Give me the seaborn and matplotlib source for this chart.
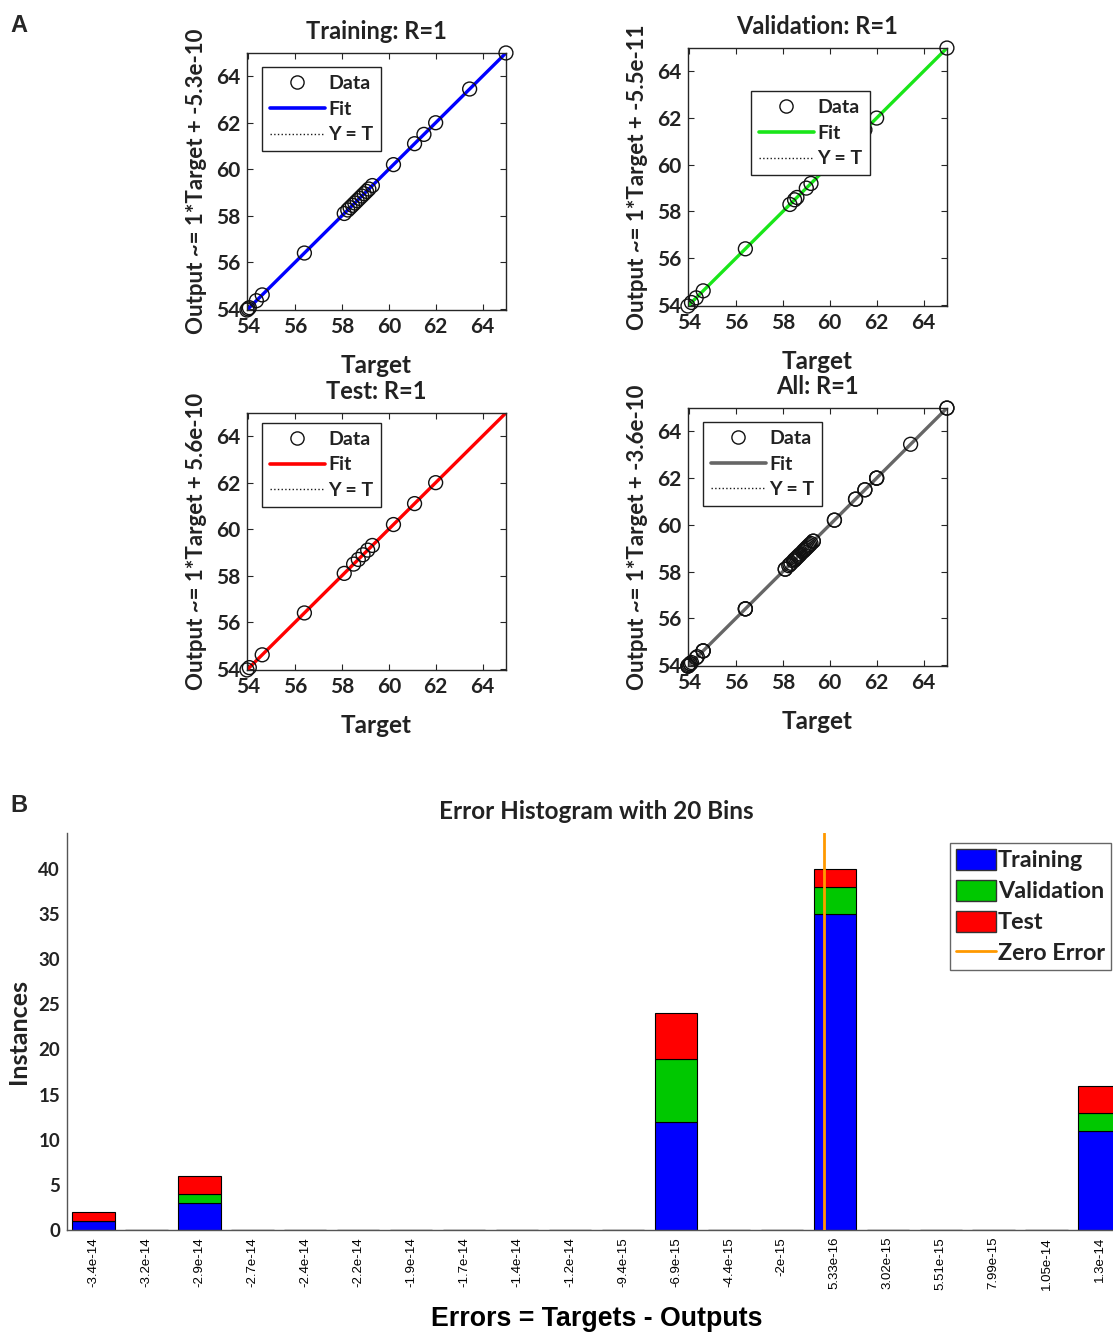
import numpy as np
import pandas as pd
import matplotlib
matplotlib.use("Agg")
import matplotlib.pyplot as plt
import seaborn as sns
from matplotlib.lines import Line2D
from matplotlib.patches import Patch

# ---------------- data ----------------
train_target = [53.95, 54.0, 54.05, 54.35, 54.6, 56.4, 58.1, 58.25, 58.35, 58.45, 58.55,
                58.65, 58.75, 58.85, 58.95, 59.05, 59.15, 59.3, 60.2, 61.1, 61.5, 62.0, 63.45, 65.0]
train_output = [53.95, 54.0, 54.05, 54.35, 54.6, 56.4, 58.1, 58.25, 58.35, 58.45, 58.55,
                58.65, 58.75, 58.85, 58.95, 59.05, 59.15, 59.3, 60.2, 61.1, 61.5, 62.0, 63.45, 65.0]

val_target = [53.95, 54.1, 54.3, 54.6, 56.4, 58.3, 58.5, 58.6, 59.0, 59.2, 61.5, 62.0, 65.0]
val_output = [53.95, 54.1, 54.3, 54.6, 56.4, 58.3, 58.5, 58.6, 59.0, 59.2, 61.5, 62.0, 65.0]

test_target = [53.95, 54.05, 54.6, 56.4, 58.1, 58.5, 58.7, 58.9, 59.1, 59.3, 60.2, 61.1, 62.0]
test_output = [53.95, 54.05, 54.6, 56.4, 58.1, 58.5, 58.7, 58.9, 59.1, 59.3, 60.2, 61.1, 62.0]

fit_slope = {"Training": 1.0, "Validation": 1.0, "Test": 1.0, "All": 1.0}
fit_intercept = {"Training": -5.3e-10, "Validation": -5.5e-11, "Test": 5.6e-10, "All": -3.6e-10}
fit_label = {"Training": "-5.3e-10", "Validation": "-5.5e-11", "Test": "5.6e-10", "All": "-3.6e-10"}
r_values = {"Training": "1", "Validation": "1", "Test": "1", "All": "1"}

hist_bin_labels = ["-3.4e-14", "-3.2e-14", "-2.9e-14", "-2.7e-14", "-2.4e-14", "-2.2e-14",
                   "-1.9e-14", "-1.7e-14", "-1.4e-14", "-1.2e-14", "-9.4e-15", "-6.9e-15",
                   "-4.4e-15", "-2e-15", "5.33e-16", "3.02e-15", "5.51e-15", "7.99e-15",
                   "1.05e-14", "1.3e-14"]
hist_training =   [1, 0, 3, 0, 0, 0, 0, 0, 0, 0, 0, 12, 0, 0, 35, 0, 0, 0, 0, 11]
hist_validation = [0, 0, 1, 0, 0, 0, 0, 0, 0, 0, 0, 7, 0, 0, 3, 0, 0, 0, 0, 2]
hist_test =       [1, 0, 2, 0, 0, 0, 0, 0, 0, 0, 0, 5, 0, 0, 2, 0, 0, 0, 0, 3]
zero_error = 0.0

# ---------------- style ----------------
sns.set_theme(style="white")
plt.rcParams["font.family"] = ["Lato", "DejaVu Sans"]
TXT = "#222222"
SPINE = "#262626"

fit_colors = {"Training": "#0000ff", "Validation": "#19e619", "Test": "#ff0000", "All": "#666666"}
hist_colors = {"Training": "#0000ff", "Validation": "#00c800", "Test": "#ff0000"}
ORANGE = "#ff9900"

fig = plt.figure(figsize=(11.13, 13.34), dpi=100)

all_target = train_target + val_target + test_target
all_output = train_output + val_output + test_output
lo, hi = min(all_target), max(all_target)

panels = [
    ("Training", train_target, train_output, [0.2219, 0.7676, 0.2327, 0.1927], (0.058, 0.945)),
    ("Validation", val_target, val_output, [0.6181, 0.7706, 0.2327, 0.1934], (0.243, 0.833)),
    ("Test", test_target, test_output, [0.2219, 0.4978, 0.2327, 0.1927], (0.058, 0.961)),
    ("All", all_target, all_output, [0.6181, 0.5007, 0.2327, 0.1934], (0.058, 0.946)),
]

for name, tgt, out, pos, leg_xy in panels:
    ax = fig.add_axes(pos)
    xs = np.array([lo, hi])
    sns.lineplot(x=xs, y=xs, ax=ax, color="k", lw=1, ls=":", legend=False)
    sns.lineplot(x=xs, y=fit_slope[name] * xs + fit_intercept[name], ax=ax,
                 color=fit_colors[name], lw=2.4, legend=False)
    sns.scatterplot(x=tgt, y=out, ax=ax, s=100, marker="o", legend=False, zorder=5)
    pc = ax.collections[-1]
    pc.set_facecolor("none")
    pc.set_edgecolor("#111111")
    pc.set_linewidth(1.0)
    pc.set_clip_on(False)
    ax.set_xlim(lo, hi)
    ax.set_ylim(lo, hi)
    ticks = [54, 56, 58, 60, 62, 64]
    ax.set_xticks(ticks)
    ax.set_yticks(ticks)
    ax.tick_params(direction="in", length=4, width=0.8, colors=SPINE, labelcolor=TXT,
                   labelsize=15, top=True, right=True, bottom=True, left=True, pad=5)
    for lab in ax.get_xticklabels() + ax.get_yticklabels():
        lab.set_fontweight("bold")
    for sp in ax.spines.values():
        sp.set_color(SPINE)
        sp.set_linewidth(1.0)
        sp.set_visible(True)
    ax.set_title(f"{name}: R={r_values[name]}", fontsize=17, fontweight="bold", color=TXT, pad=10)
    ax.set_xlabel("Target", fontsize=17.5, fontweight="bold", color=TXT, labelpad=12)
    ax.set_ylabel(f"Output ~= 1*Target + {fit_label[name]}", fontsize=16, fontweight="bold",
                  color=TXT, labelpad=6)
    handles = [
        Line2D([], [], ls="none", marker="o", mfc="none", mec="#111111", ms=9.5, mew=1.0),
        Line2D([], [], color=fit_colors[name], lw=2.6),
        Line2D([], [], color="k", lw=1, ls=":"),
    ]
    leg = ax.legend(handles, ["Data", "Fit", "Y = T"], loc="upper left", bbox_to_anchor=leg_xy,
                    fontsize=14, frameon=True, fancybox=False, framealpha=1, edgecolor="#222222",
                    handlelength=2.85, handletextpad=0.15, labelspacing=0.45, borderpad=0.4,
                    borderaxespad=0)
    leg.get_frame().set_linewidth(1.0)
    for t in leg.get_texts():
        t.set_fontweight("bold")
        t.set_color(TXT)

# ---------------- histogram ----------------
axh = fig.add_axes([0.0602, 0.078, 0.9515, 0.2976])
rows = []
for set_name, counts in [("Training", hist_training), ("Validation", hist_validation), ("Test", hist_test)]:
    for i, c in enumerate(counts):
        if c:
            rows.append({"bin": i, "set": set_name, "count": c})
df = pd.DataFrame(rows)
sns.histplot(data=df, x="bin", weights="count", hue="set",
             hue_order=["Test", "Validation", "Training"], multiple="stack",
             discrete=True, shrink=0.8, palette=hist_colors, edgecolor="black",
             linewidth=0.8, alpha=1, legend=False, ax=axh)

centers = np.array([float(s) for s in hist_bin_labels])
zero_pos = np.interp(zero_error, centers, np.arange(len(centers)))
axh.axvline(zero_pos, color=ORANGE, lw=2, zorder=6)

axh.set_xlim(-0.5, len(hist_bin_labels) - 0.5)
axh.set_ylim(0, 44)
axh.set_xticks(range(len(hist_bin_labels)))
axh.set_xticklabels(hist_bin_labels, rotation=90, fontsize=9.5, family="Liberation Sans", va="top")
axh.set_yticks(range(0, 41, 5))
axh.tick_params(axis="y", direction="in", length=8, width=0.8, colors="#555555",
                labelcolor=TXT, labelsize=13.5, pad=5)
axh.tick_params(axis="x", direction="in", length=8, width=0.8, colors="#555555",
                labelcolor="black", pad=5)
for lab in axh.get_yticklabels():
    lab.set_fontweight("bold")
for side in ["top", "right"]:
    axh.spines[side].set_visible(False)
for side in ["left", "bottom"]:
    axh.spines[side].set_color("#555555")
    axh.spines[side].set_linewidth(1.0)
axh.set_title("Error Histogram with 20 Bins", fontsize=17.5, fontweight="bold", color=TXT, pad=10)
axh.set_xlabel("Errors = Targets - Outputs", fontsize=19.3, fontweight="bold",
               family="Liberation Sans", color="black", labelpad=12)
axh.set_ylabel("Instances", fontsize=18, fontweight="bold", color=TXT, labelpad=6)

hh = [Patch(fc=hist_colors["Training"], ec="#333333"),
      Patch(fc=hist_colors["Validation"], ec="#333333"),
      Patch(fc=hist_colors["Test"], ec="#333333"),
      Line2D([], [], color=ORANGE, lw=2)]
legh = axh.legend(hh, ["Training", "Validation", "Test", "Zero Error"], loc="upper left",
                  bbox_to_anchor=(0.834, 0.975), fontsize=16.8, frameon=True, fancybox=False,
                  framealpha=1, edgecolor="#666666", handlelength=1.7, handleheight=1.05,
                  handletextpad=0.1, labelspacing=0.35, borderpad=0.25, borderaxespad=0)
for t in legh.get_texts():
    t.set_fontweight("bold")
    t.set_color(TXT)

fig.text(0.009, 0.981, "A", fontsize=17, fontweight="bold", family="Liberation Sans", va="center")
fig.text(0.009, 0.396, "B", fontsize=17, fontweight="bold", family="Liberation Sans", va="center")

fig.savefig("out.png", dpi=100)
